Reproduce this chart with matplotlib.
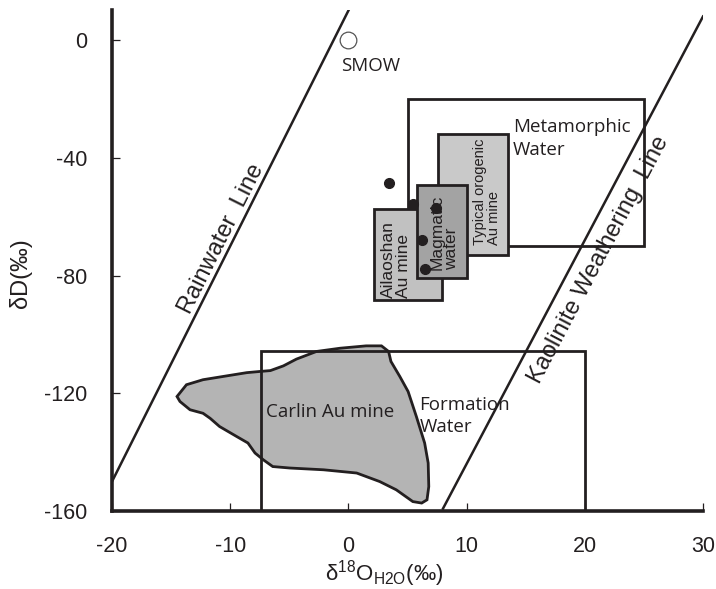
import numpy as np
import matplotlib
matplotlib.use("Agg")
import matplotlib.pyplot as plt
from matplotlib.patches import Rectangle, Polygon

plt.rcParams['font.family'] = ['Liberation Sans', 'DejaVu Sans']
plt.rcParams['mathtext.fontset'] = 'custom'
plt.rcParams['mathtext.rm'] = 'Liberation Sans'
plt.rcParams['mathtext.it'] = 'Liberation Sans:italic'
plt.rcParams['axes.unicode_minus'] = False

INK = '#231f20'

# reference lines, end points (d18O, dD)
rain_x = [-20, 0]
rain_y = [-150, 10]
kaol_x = [8, 30]
kaol_y = [-159.2, 8]

# fields: x0, x1, y0, y1
metamorphic_box = [5, 25, -70, -20]
formation_box = [-7.4, 20, -160, -105.5]
orogenic_box = [7.6, 13.5, -73, -32]
ailaoshan_box = [2.2, 7.9, -88.3, -57.4]
magmatic_box = [5.8, 10, -80.7, -49.2]

# Carlin Au mine outline
carlin_x = [-14.5, -13.7, -12.3, -10.3, -8.6, -7.5, -6.6, -5.5, -4.4, -2.7,
            -0.7, 1.5, 2.8, 3.4, 3.6, 4.35, 5.05, 5.75, 6.45, 6.75,
            6.8, 6.65, 6.2, 5.45, 4.05, 2.65, 0.7, -2.1, -4.95, -6.4,
            -7.2, -7.9, -8.5, -9.45, -10.9, -11.7, -12.3, -13.4, -14.25]
carlin_y = [-121.1, -117.1, -115.4, -114.1, -113.0, -112.6, -112.3, -110.7, -108.4, -105.8,
            -104.7, -103.9, -103.9, -105.8, -109.2, -114.3, -119.4, -127.9, -136.9, -143.7,
            -151.7, -156.2, -157.3, -156.8, -152.8, -150.0, -147.1, -146.0, -145.4, -144.9,
            -142.6, -140.3, -136.9, -134.7, -131.3, -128.5, -126.8, -125.6, -122.8]

# Ailaoshan samples
sample_x = [3.4, 5.5, 7.45, 6.2, 6.5]
sample_y = [-48.7, -55.7, -57.1, -67.9, -77.8]

smow_x = [0]
smow_y = [0]

fig = plt.figure(figsize=(7.16, 5.89), dpi=100)
ax = fig.add_axes([112 / 716, 1 - 511 / 589, 591 / 716, 501 / 589])
ax.set_xlim(-20, 30)
ax.set_ylim(-160, 10.2)


def box(b, fc, z):
    r = Rectangle((b[0], b[2]), b[1] - b[0], b[3] - b[2], facecolor=fc,
                  edgecolor=INK, linewidth=2.0, zorder=z)
    ax.add_patch(r)


ax.add_patch(Polygon(np.column_stack([carlin_x, carlin_y]), closed=True,
                     facecolor='#b4b4b4', edgecolor=INK, linewidth=2.0, zorder=1))
box(formation_box, 'none', 2)
box(metamorphic_box, 'none', 2)
box(orogenic_box, '#c9c9c9', 3)
box(ailaoshan_box, '#c1c1c1', 4)
box(magmatic_box, '#a3a3a3', 5)

ax.plot(rain_x, rain_y, color=INK, linewidth=1.8, zorder=2)
ax.plot(kaol_x, kaol_y, color=INK, linewidth=1.8, zorder=2)

ax.plot(sample_x, sample_y, 'o', color=INK, markersize=7, zorder=6)
ax.plot(smow_x, smow_y, 'o', markerfacecolor='white', markeredgecolor='#555555',
        markeredgewidth=0.9, markersize=12, zorder=6)


def line_angle(xs, ys):
    p = ax.transData.transform(np.column_stack([xs, ys]))
    return np.degrees(np.arctan2(p[1, 1] - p[0, 1], p[1, 0] - p[0, 0]))


ax.text(-10.7, -67.6, 'Rainwater  Line', rotation=line_angle(rain_x, rain_y),
        rotation_mode='anchor', ha='center', va='center', fontsize=17, color=INK)
ax.text(21.2, -74.5, 'Kaolinite Weathering  Line', rotation=line_angle(kaol_x, kaol_y),
        rotation_mode='anchor', ha='center', va='center', fontsize=17, color=INK)

humanist = ['Open Sans', 'DejaVu Sans']
ax.text(-0.6, -8.7, 'SMOW', family=humanist, fontsize=13.5, ha='left', va='center', color=INK)
ax.text(13.9, -33.4, 'Metamorphic\nWater', family=humanist, fontsize=13.5,
        ha='left', va='center', linespacing=1.35, color=INK)
ax.text(-7.0, -126.2, 'Carlin Au mine', family=humanist, fontsize=13.5,
        ha='left', va='center', color=INK, zorder=7)
ax.text(6.0, -127.6, 'Formation\nWater', family=humanist, fontsize=13.5,
        ha='left', va='center', linespacing=1.3, color=INK, zorder=7)

ax.text(11.7, -69.6, 'Typical orogenic\nAu mine', rotation=90, fontsize=10.5,
        ha='center', va='bottom', multialignment='left', linespacing=1.0,
        color=INK, zorder=7)
ax.text(4.0, -87.7, 'Ailaoshan\nAu mine', rotation=90, fontsize=12.5,
        ha='center', va='bottom', multialignment='left', linespacing=1.0,
        color=INK, zorder=7)
ax.text(8.1, -78.1, 'Magmatic\nwater', rotation=90, fontsize=12.5,
        ha='center', va='bottom', multialignment='left', linespacing=0.95,
        color=INK, zorder=7)

for s in ['top', 'right']:
    ax.spines[s].set_visible(False)
for s in ['left', 'bottom']:
    ax.spines[s].set_linewidth(2.6)
    ax.spines[s].set_color(INK)

ax.set_xticks([-20, -10, 0, 10, 20, 30])
ax.set_yticks([-160, -120, -80, -40, 0])
ax.tick_params(direction='in', length=6, width=0.9, color=INK,
               labelsize=15.5, pad=18, labelcolor=INK)

ax.set_ylabel('δD(‰)', fontsize=17, color=INK)
ax.yaxis.set_label_coords(-0.135, 0.475)
ax.set_xlabel('δ$^{18}$O$_{\\mathrm{H2O}}$(‰)', fontsize=16, color=INK)
ax.xaxis.set_label_coords(0.46, -0.095)

fig.savefig('out.png', dpi=100)
